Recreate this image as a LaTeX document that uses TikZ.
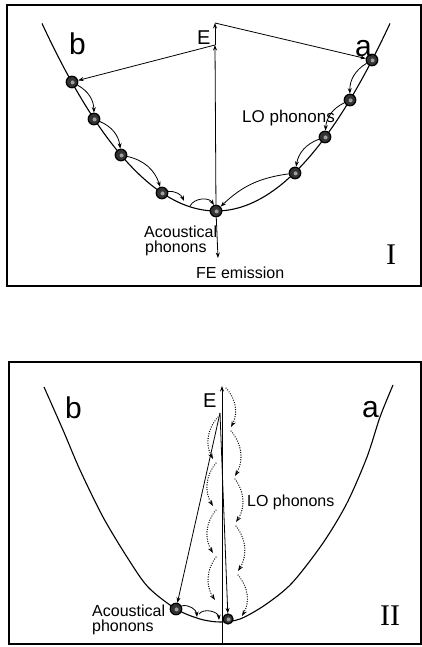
\documentclass[tikz,border=0pt]{standalone}
\usepackage{fontspec}
\setmainfont{Liberation Sans}
\newfontfamily\romfont{Liberation Serif}
\usetikzlibrary{arrows.meta}
\begin{document}
\begin{tikzpicture}[x=1pt,y=-1pt,
  frame/.style={line width=1.4pt},
  curve/.style={line width=1.1pt},
  ball/.style={circle,draw=black,line width=1.2pt,fill=gray!40!black,minimum size=11.5pt,inner sep=0pt,
    path picture={\fill[gray!75] ([xshift=0.6pt,yshift=-0.4pt]path picture bounding box.center) circle (2pt);}},
  arr/.style={-{Stealth[length=5.5pt,width=4pt]},line width=0.8pt},
  darr/.style={-{Stealth[length=6pt,width=4.2pt]},line width=1.3pt,line cap=round,dash pattern=on 0.1pt off 2.3pt},
  small/.style={font=\fontsize{16}{16}\selectfont,inner sep=0pt},
  lo/.style={font=\fontsize{17}{17}\selectfont,inner sep=0pt},
  big/.style={font=\fontsize{30}{30}\selectfont,inner sep=0pt},
  elbl/.style={font=\fontsize{20}{20}\selectfont,inner sep=0pt},
  roman/.style={font=\romfont\fontsize{30}{30}\selectfont,inner sep=0pt}]
\useasboundingbox (0,0) rectangle (422,647);
\fill[white] (0,0) rectangle (422,647);

% ---------- Panel I ----------
\draw[frame] (7,5) rectangle (421,286);
\draw[curve] plot[domain=42:390,samples=90] (\x,{211-0.0062*(\x-216)*(\x-216)});

\node[ball] (b1) at (72,82) {};
\node[ball] (l2) at (94,119) {};
\node[ball] (l3) at (121,155) {};
\node[ball] (l4) at (162,193) {};
\node[ball] (bot1) at (216,211) {};
\node[ball] (a1) at (372,60) {};
\node[ball] (r2) at (350,100) {};
\node[ball] (r3) at (325,137) {};
\node[ball] (r4) at (295,173) {};

\draw[arr] (b1) to[bend left=30] (l2);
\draw[arr] (l2) to[bend left=30] (l3);
\draw[arr] (l3) to[bend left=30] (l4);
\coordinate (ac1) at (184,201);
\draw[arr] (l4) to[bend left=35] (ac1);
\coordinate (ac2) at (190,206);
\draw[arr] (ac2) to[bend left=60] (bot1);

\draw[arr] (a1) to[bend right=30] (r2);
\draw[arr] (r2) to[bend right=30] (r3);
\draw[arr] (r3) to[bend right=30] (r4);
\draw[arr] (r4) to[bend right=18] (bot1);

\coordinate (E1t) at (215,23);
\coordinate (E1m) at (215,45);
\coordinate (fe) at (218,258);
\draw[arr] (E1t) -- (a1);
\draw[arr] (E1m) -- (b1);
\draw[arr] (bot1) -- (E1m);
\draw[arr] (E1m) -- (E1t);
\draw[arr] (bot1) -- (fe);

\node[big,anchor=base west] (tb1) at (69,55) {b};
\node[big,anchor=base west] (ta1) at (355,57) {a};
\node[elbl,anchor=base west] (tE1) at (197,45) {E};
\node[lo,anchor=base west] (tlo1) at (242,123) {LO phonons};
\node[small,anchor=base west] (tac1) at (144,237) {Acoustical};
\node[small,anchor=base west] (tph1) at (145,252) {phonons};
\node[small,anchor=base west] (tfe) at (196,278) {FE emission};
\node[roman,anchor=base] (tI) at (391,264) {I};

% ---------- Panel II ----------
\draw[frame] (9,362) rectangle (421,644);
\draw[curve] plot[smooth] coordinates {(44,387) (63,430) (80,470) (103,517) (127,557) (148,587) (176,609) (200,619) (220,622) (240,619) (265,605) (292,583) (323,543) (347,503) (367,457) (380,417) (393,385)};

\node[ball] (bl) at (176,609) {};
\node[ball,minimum size=10pt] (br) at (228,619) {};

\coordinate (ax0) at (222,643);
\coordinate (ax1) at (222,386);
\draw[arr] (ax0) -- (ax1);
\coordinate (E2) at (220,413);
\draw[arr] (E2) -- (bl);
\draw[arr] (E2) -- (br);

% dotted LO phonon cascades, left column
\coordinate (L0) at (218,417);
\coordinate (L1) at (213,459);
\coordinate (L1s) at (216,463);
\coordinate (L2) at (213,506);
\coordinate (L2s) at (216,510);
\coordinate (L3) at (213,553);
\coordinate (L3s) at (216,557);
\coordinate (L4) at (215,600);
\draw[darr] (L0) to[bend right=35] (L1);
\draw[darr] (L1s) to[bend right=35] (L2);
\draw[darr] (L2s) to[bend right=35] (L3);
\draw[darr] (L3s) to[bend right=35] (L4);

% right column
\coordinate (R0) at (226,388);
\coordinate (R1) at (231,427);
\coordinate (R1s) at (231,431);
\coordinate (R2) at (235,476);
\coordinate (R2s) at (235,479);
\coordinate (R3) at (236,522);
\coordinate (R3s) at (236,526);
\coordinate (R4) at (238,571);
\coordinate (R4s) at (238,575);
\coordinate (R5) at (242,616);
\draw[darr] (R0) to[bend left=35] (R1);
\draw[darr] (R1s) to[bend left=35] (R2);
\draw[darr] (R2s) to[bend left=35] (R3);
\draw[darr] (R3s) to[bend left=35] (R4);
\draw[darr] (R4s) to[bend left=35] (R5);

% acoustical phonons
\coordinate (ac3) at (197,617);
\draw[arr] (bl) to[bend left=50] (ac3);
\coordinate (ac4) at (199,614);
\coordinate (ac5) at (219,620);
\draw[arr] (ac4) to[bend left=70] (ac5);

\node[big,anchor=base west] (tb2) at (65,418) {b};
\node[big,anchor=base west] (ta2) at (362,417) {a};
\node[elbl,anchor=base west] (tE2) at (203,407) {E};
\node[small,anchor=base west] (tlo2) at (247,506) {LO phonons};
\node[small,anchor=base west] (tac2) at (92,616) {Acoustical};
\node[small,anchor=base west] (tph2) at (92,631) {phonons};
\node[roman,anchor=base] (tII) at (390,625) {II};
\end{tikzpicture}
\end{document}
